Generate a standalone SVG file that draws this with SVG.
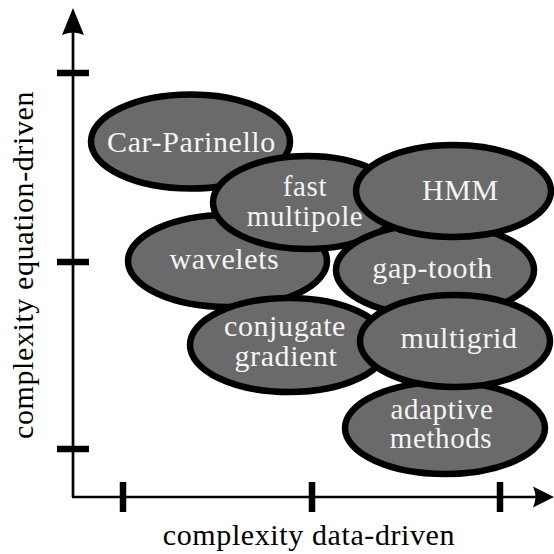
<svg xmlns="http://www.w3.org/2000/svg" width="554" height="554" viewBox="0 0 554 554">
<style>
.node ellipse{fill:#6a6a6a;stroke:#000;stroke-width:6.5}
.node text{fill:#f4f4f4;font-size:30px;text-anchor:middle;letter-spacing:0.6px}
.node text.two{font-size:29px}
.lbl{fill:#000;font-size:30px;text-anchor:middle;letter-spacing:0.6px}
.axis{stroke:#000;stroke-width:2.7;fill:none}
.tick{stroke:#000;stroke-width:6.5}
</style>
<rect width="554" height="554" fill="#fff"/>
<g id="connectors">
<line class="axis" x1="73" y1="497" x2="73" y2="28"/>
<line class="axis" x1="72" y1="497" x2="538" y2="497"/>
<path d="M73,8 L84,35 Q73,30 62,35 Z" fill="#000"/>
<path d="M554,497 L533,486.5 Q538,497 533,507.5 Z" fill="#000"/>
<line class="tick" x1="57" y1="73" x2="89" y2="73"/>
<line class="tick" x1="57" y1="262" x2="89" y2="262"/>
<line class="tick" x1="57" y1="449" x2="89" y2="449"/>
<line class="tick" x1="123" y1="482" x2="123" y2="512"/>
<line class="tick" x1="312" y1="482" x2="312" y2="512"/>
<line class="tick" x1="500" y1="482" x2="500" y2="512"/>
</g>
<g font-family="'Liberation Serif', 'DejaVu Serif', serif">
<g id="xlabel"><text class="lbl" x="309" y="545">complexity data-driven</text></g>
<g id="ylabel"><text class="lbl" transform="translate(33,265) rotate(-90)">complexity equation-driven</text></g>
<g id="car-parinello" class="node"><ellipse cx="190.5" cy="141.5" rx="99.5" ry="47"/><text x="191.5" y="152">Car-Parinello</text></g>
<g id="wavelets" class="node"><ellipse cx="227.5" cy="261" rx="99.5" ry="46"/><text x="224.5" y="269">wavelets</text></g>
<g id="fast-multipole" class="node"><ellipse cx="307" cy="202.5" rx="94" ry="46.5"/><text class="two" x="305" y="196">fast</text><text class="two" x="305" y="225.5">multipole</text></g>
<g id="gap-tooth" class="node"><ellipse cx="435" cy="270" rx="99" ry="46"/><text x="432.5" y="278">gap-tooth</text></g>
<g id="hmm" class="node"><ellipse cx="453.5" cy="191" rx="97.5" ry="46"/><text x="460.5" y="200">HMM</text></g>
<g id="conjugate-gradient" class="node"><ellipse cx="289" cy="345" rx="99" ry="47"/><text x="285" y="336">conjugate</text><text x="286" y="366">gradient</text></g>
<g id="adaptive-methods" class="node"><ellipse cx="445" cy="428" rx="100" ry="46"/><text class="two" x="442" y="418.5">adaptive</text><text class="two" x="441" y="447.5">methods</text></g>
<g id="multigrid" class="node"><ellipse cx="455" cy="341" rx="95" ry="46"/><text x="459" y="348">multigrid</text></g>
</g>
</svg>
